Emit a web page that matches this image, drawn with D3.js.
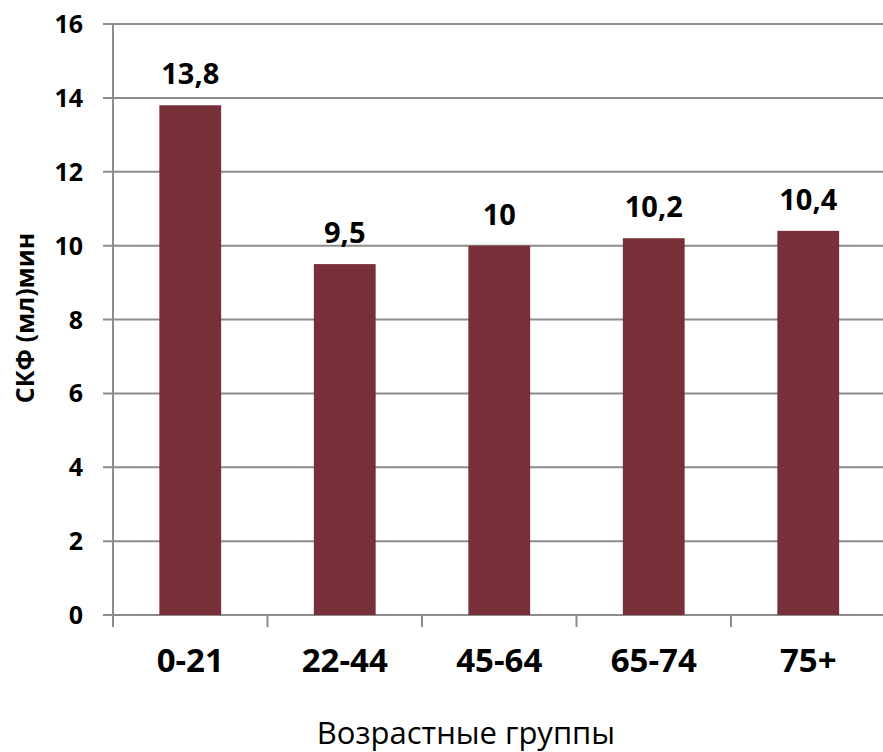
<!DOCTYPE html>
<html><head><meta charset="utf-8">
<script src="https://cdn.jsdelivr.net/npm/d3@7"></script>
<style>body{margin:0;background:#fff}</style>
</head><body>
<svg id="c" width="883" height="752"></svg>
<script>
const categories = ["0-21","22-44","45-64","65-74","75+"];
const values = [13.8, 9.5, 10, 10.2, 10.4];
const yTicks = [0,2,4,6,8,10,12,14,16];
const xTitle = "Возрастные группы";
const yTitle = "СКФ (мл)мин";

const svg = d3.select("#c");
const L = 113, R = 885.5, T = 24, B = 615;
const x = d3.scaleBand().domain(categories).range([L, R]).paddingInner(0.6).paddingOuter(0.3);
const xb = d3.scaleBand().domain(categories).range([L, R]);
const y = d3.scaleLinear().domain([0,16]).range([B, T]);
const font = "'Open Sans', sans-serif";
const grid = "#8c8c8c";

// gridlines
svg.append("g").selectAll("line").data(yTicks.filter(d=>d>0)).join("line")
  .attr("x1", L-10).attr("x2", 883).attr("y1", d=>y(d)).attr("y2", d=>y(d))
  .attr("stroke", grid).attr("stroke-width", 2);
// y axis
svg.append("line").attr("x1", L).attr("x2", L).attr("y1", T).attr("y2", B+12).attr("stroke", grid).attr("stroke-width", 2);
// x axis
svg.append("line").attr("x1", L-10).attr("x2", 883).attr("y1", B).attr("y2", B).attr("stroke", grid).attr("stroke-width", 2);
// x ticks
const bounds = categories.map(c=>xb(c)).concat([R]);
svg.append("g").selectAll("line").data(bounds).join("line")
  .attr("x1", d=>d).attr("x2", d=>d).attr("y1", B).attr("y2", B+12)
  .attr("stroke", grid).attr("stroke-width", 2);

// y tick labels
svg.append("g").selectAll("text").data(yTicks).join("text")
  .attr("x", 83).attr("y", d=>y(d)).attr("dy", "0.36em").attr("text-anchor","end")
  .attr("font-family", font).attr("font-weight","bold").attr("font-size", 25)
  .text(d=>d);

// bars
svg.append("g").selectAll("rect").data(values).join("rect")
  .attr("x", (d,i)=>x(categories[i])).attr("width", x.bandwidth())
  .attr("y", d=>y(d)).attr("height", d=>B - y(d))
  .attr("fill", "#772f38");

// data labels
svg.append("g").selectAll("text").data(values).join("text")
  .attr("x", (d,i)=>x(categories[i]) + x.bandwidth()/2).attr("y", d=>y(d) - 21)
  .attr("text-anchor","middle").attr("font-family", font).attr("font-weight","bold").attr("font-size", 29)
  .text(d=>String(d).replace(".", ","));

// x labels
svg.append("g").selectAll("text").data(categories).join("text")
  .attr("x", d=>xb(d) + xb.bandwidth()/2).attr("y", 672)
  .attr("text-anchor","middle").attr("font-family", font).attr("font-weight","bold").attr("font-size", 33)
  .text(d=>d);

// titles
svg.append("text").attr("x", 466).attr("y", 744).attr("text-anchor","middle")
  .attr("font-family", font).attr("font-size", 31).text(xTitle);
svg.append("text").attr("transform","translate(34,318) rotate(-90)").attr("text-anchor","middle")
  .attr("font-family", font).attr("font-weight","bold").attr("font-size", 25).text(yTitle);
</script>
</body></html>
